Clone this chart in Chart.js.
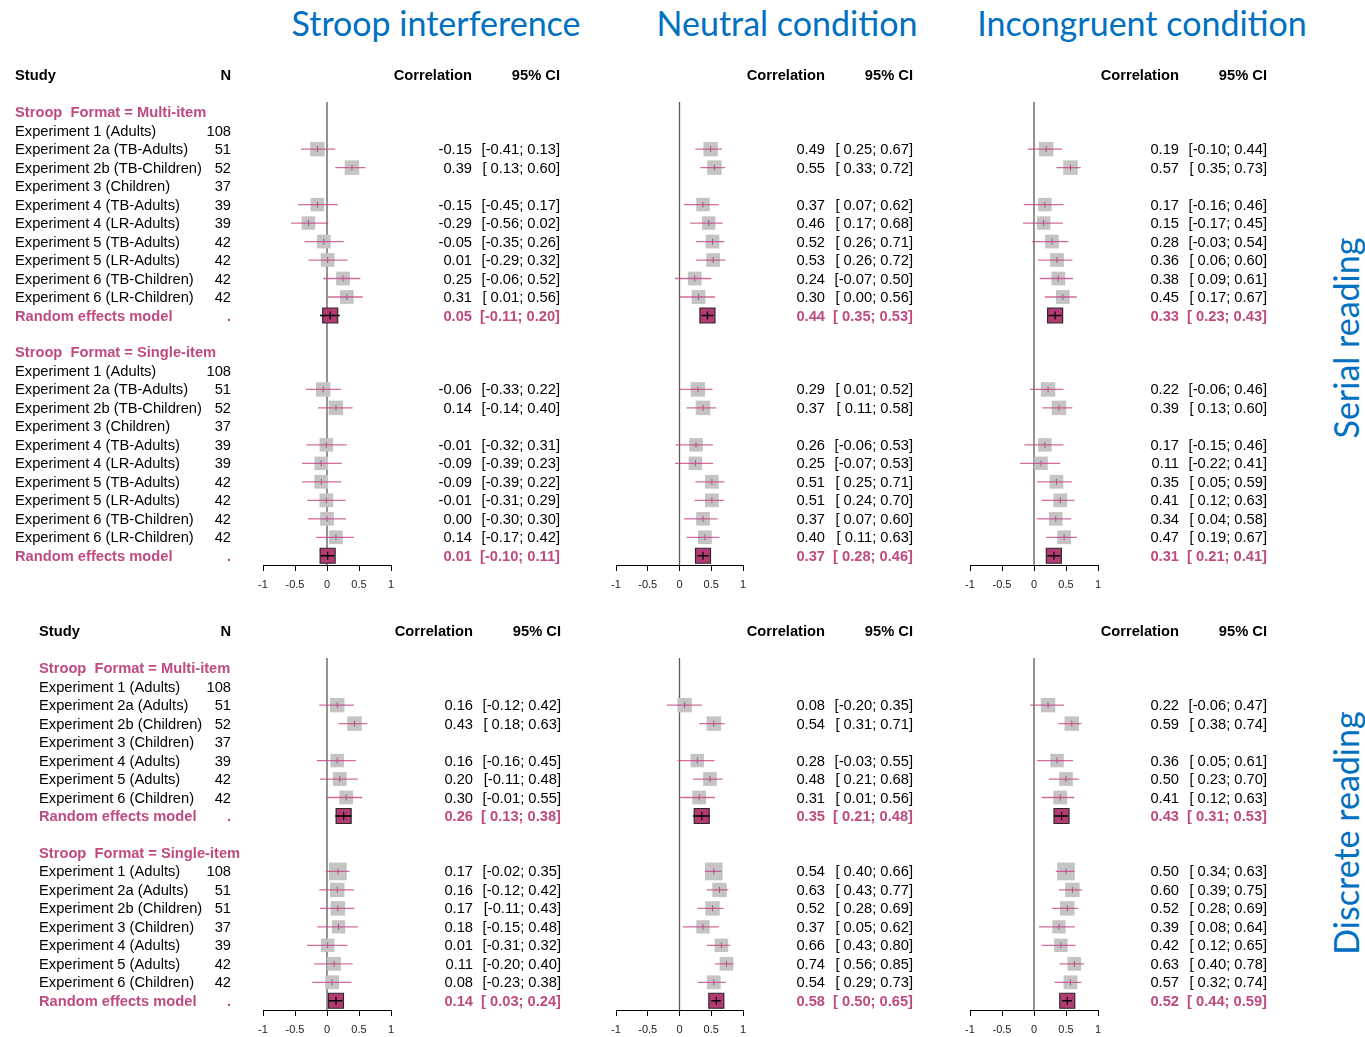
<!DOCTYPE html>
<html>
<head>
<meta charset="utf-8">
<title>Stroop forest plots</title>
<script src="https://cdn.jsdelivr.net/npm/chart.js@4.4.1/dist/chart.umd.min.js"></script>
<style>
  body { margin: 0; background: #fff; }
  #page { position: relative; width: 1365px; height: 1037px; overflow: hidden; }
  canvas { position: absolute; left: 0; }
  .title { position: absolute; top: 3px; line-height: 40px; color: #0070C0; font-family: Lato, "Open Sans", sans-serif;
           font-size: 34px; white-space: nowrap; transform: translateX(-50%); }
  .side { position: absolute; color: #0070C0; font-family: Lato, "Open Sans", sans-serif; font-size: 34px;
          white-space: nowrap; transform: translate(-50%, -50%) rotate(-90deg); }
</style>
</head>
<body>
<div id="page">
  <div class="title" style="left:436px">Stroop interference</div>
  <div class="title" style="left:787px">Neutral condition</div>
  <div class="title" style="left:1142px">Incongruent condition</div>
  <div class="side" style="left:1345px; top:338px">Serial reading</div>
  <div class="side" style="left:1345px; top:833px">Discrete reading</div>

  <canvas id="s1" width="1365" height="600" style="top:0"></canvas>
  <canvas id="s2" width="1365" height="600" style="top:0"></canvas>
  <canvas id="s3" width="1365" height="600" style="top:0"></canvas>
  <canvas id="d1" width="1365" height="437" style="top:600px"></canvas>
  <canvas id="d2" width="1365" height="437" style="top:600px"></canvas>
  <canvas id="d3" width="1365" height="437" style="top:600px"></canvas>
</div>

<script>
// ---- data ----
const groupLabels = ['Stroop  Format = Multi-item', 'Stroop  Format = Single-item'];
const xTicks = [-1, -0.5, 0, 0.5, 1];

const serialStudies = ['Experiment 1 (Adults)', 'Experiment 2a (TB-Adults)', 'Experiment 2b (TB-Children)',
  'Experiment 3 (Children)', 'Experiment 4 (TB-Adults)', 'Experiment 4 (LR-Adults)', 'Experiment 5 (TB-Adults)',
  'Experiment 5 (LR-Adults)', 'Experiment 6 (TB-Children)', 'Experiment 6 (LR-Children)'];
const serialN = [108, 51, 52, 37, 39, 39, 42, 42, 42, 42];

const discreteStudies = ['Experiment 1 (Adults)', 'Experiment 2a (Adults)', 'Experiment 2b (Children)',
  'Experiment 3 (Children)', 'Experiment 4 (Adults)', 'Experiment 5 (Adults)', 'Experiment 6 (Children)'];
const discreteMultiN = [108, 51, 52, 37, 39, 42, 42];
const discreteSingleN = [108, 51, 51, 37, 39, 42, 42];

// [correlation, lower, upper]; null = no estimate
const serialStroopMulti = [null, [-0.15, -0.41, 0.13], [0.39, 0.13, 0.60], null, [-0.15, -0.45, 0.17],
  [-0.29, -0.56, 0.02], [-0.05, -0.35, 0.26], [0.01, -0.29, 0.32], [0.25, -0.06, 0.52], [0.31, 0.01, 0.56]];
const serialStroopSingle = [null, [-0.06, -0.33, 0.22], [0.14, -0.14, 0.40], null, [-0.01, -0.32, 0.31],
  [-0.09, -0.39, 0.23], [-0.09, -0.39, 0.22], [-0.01, -0.31, 0.29], [0.00, -0.30, 0.30], [0.14, -0.17, 0.42]];
const serialStroopRE = [[0.05, -0.11, 0.20], [0.01, -0.10, 0.11]];

const serialNeutralMulti = [null, [0.49, 0.25, 0.67], [0.55, 0.33, 0.72], null, [0.37, 0.07, 0.62],
  [0.46, 0.17, 0.68], [0.52, 0.26, 0.71], [0.53, 0.26, 0.72], [0.24, -0.07, 0.50], [0.30, 0.00, 0.56]];
const serialNeutralSingle = [null, [0.29, 0.01, 0.52], [0.37, 0.11, 0.58], null, [0.26, -0.06, 0.53],
  [0.25, -0.07, 0.53], [0.51, 0.25, 0.71], [0.51, 0.24, 0.70], [0.37, 0.07, 0.60], [0.40, 0.11, 0.63]];
const serialNeutralRE = [[0.44, 0.35, 0.53], [0.37, 0.28, 0.46]];

const serialIncongMulti = [null, [0.19, -0.10, 0.44], [0.57, 0.35, 0.73], null, [0.17, -0.16, 0.46],
  [0.15, -0.17, 0.45], [0.28, -0.03, 0.54], [0.36, 0.06, 0.60], [0.38, 0.09, 0.61], [0.45, 0.17, 0.67]];
const serialIncongSingle = [null, [0.22, -0.06, 0.46], [0.39, 0.13, 0.60], null, [0.17, -0.15, 0.46],
  [0.11, -0.22, 0.41], [0.35, 0.05, 0.59], [0.41, 0.12, 0.63], [0.34, 0.04, 0.58], [0.47, 0.19, 0.67]];
const serialIncongRE = [[0.33, 0.23, 0.43], [0.31, 0.21, 0.41]];

const discreteStroopMulti = [null, [0.16, -0.12, 0.42], [0.43, 0.18, 0.63], null, [0.16, -0.16, 0.45],
  [0.20, -0.11, 0.48], [0.30, -0.01, 0.55]];
const discreteStroopSingle = [[0.17, -0.02, 0.35], [0.16, -0.12, 0.42], [0.17, -0.11, 0.43], [0.18, -0.15, 0.48],
  [0.01, -0.31, 0.32], [0.11, -0.20, 0.40], [0.08, -0.23, 0.38]];
const discreteStroopRE = [[0.26, 0.13, 0.38], [0.14, 0.03, 0.24]];

const discreteNeutralMulti = [null, [0.08, -0.20, 0.35], [0.54, 0.31, 0.71], null, [0.28, -0.03, 0.55],
  [0.48, 0.21, 0.68], [0.31, 0.01, 0.56]];
const discreteNeutralSingle = [[0.54, 0.40, 0.66], [0.63, 0.43, 0.77], [0.52, 0.28, 0.69], [0.37, 0.05, 0.62],
  [0.66, 0.43, 0.80], [0.74, 0.56, 0.85], [0.54, 0.29, 0.73]];
const discreteNeutralRE = [[0.35, 0.21, 0.48], [0.58, 0.50, 0.65]];

const discreteIncongMulti = [null, [0.22, -0.06, 0.47], [0.59, 0.38, 0.74], null, [0.36, 0.05, 0.61],
  [0.50, 0.23, 0.70], [0.41, 0.12, 0.63]];
const discreteIncongSingle = [[0.50, 0.34, 0.63], [0.60, 0.39, 0.75], [0.52, 0.28, 0.69], [0.39, 0.08, 0.64],
  [0.42, 0.12, 0.65], [0.63, 0.40, 0.78], [0.57, 0.32, 0.74]];
const discreteIncongRE = [[0.43, 0.31, 0.53], [0.52, 0.44, 0.59]];

// ---- drawing ----
const PINK = '#BF4A80';
const CI_PINK = 'rgba(196, 70, 130, 0.8)';
const FONT = '"Liberation Sans", Arial, sans-serif';
const FS = '14.7px ';

// lay out rows: group header, studies, random effects row, blank line
function buildRows(studies, nLists, results, reList) {
  const rows = [];
  let r = 0;
  for (let g = 0; g < 2; g++) {
    rows.push({ type: 'group', r: r++, label: groupLabels[g] });
    studies.forEach((s, i) => rows.push({ type: 'study', r: r++, name: s, n: nLists[g][i], res: results[g][i] }));
    rows.push({ type: 're', r: r, res: reList[g] });
    r += 2;
  }
  return rows;
}

function fmt(v) { return v.toFixed(2); }
function ciText(res) { return '[' + (res[1] < 0 ? '' : ' ') + fmt(res[1]) + '; ' + fmt(res[2]) + ']'; }

function tablePlugin(rows, cols) {
  return {
    id: 'table',
    afterDraw(chart) {
      const ctx = chart.ctx;
      const y = chart.scales.y;
      ctx.save();
      ctx.textBaseline = 'middle';
      const hy = y.getPixelForValue(-2) + 1;
      ctx.fillStyle = '#000';
      ctx.font = 'bold ' + FS + FONT;
      if (cols.studyX != null) {
        ctx.textAlign = 'left';
        ctx.fillText('Study', cols.studyX, hy);
        ctx.textAlign = 'right';
        ctx.fillText('N', cols.nX, hy);
      }
      ctx.textAlign = 'right';
      ctx.fillText('Correlation', cols.estX, hy);
      ctx.fillText('95% CI', cols.ciX, hy);

      rows.forEach(row => {
        const py = y.getPixelForValue(row.r) + 1;
        const bold = row.type !== 'study';
        ctx.font = (bold ? 'bold ' : '') + FS + FONT;
        ctx.fillStyle = row.type === 'study' ? '#000' : PINK;
        if (cols.studyX != null) {
          ctx.textAlign = 'left';
          if (row.type === 'group') ctx.fillText(row.label, cols.studyX, py);
          if (row.type === 'study') ctx.fillText(row.name, cols.studyX, py);
          if (row.type === 're') ctx.fillText('Random effects model', cols.studyX, py);
          ctx.textAlign = 'right';
          if (row.type === 'study') ctx.fillText(String(row.n), cols.nX, py);
          if (row.type === 're') ctx.fillText('.', cols.nX, py);
        }
        if ((row.type === 'study' || row.type === 're') && row.res) {
          ctx.textAlign = 'right';
          ctx.fillText(fmt(row.res[0]), cols.estX, py);
          ctx.fillText(ciText(row.res), cols.ciX, py);
        }
      });
      ctx.restore();
    }
  };
}

function segments(list) {
  return list.flatMap(d => [{ x: d.res[1], y: d.r }, { x: d.res[2], y: d.r }, { x: null, y: null }]);
}

function makePanel(id, rows, cols, box) {
  const studyRows = rows.filter(d => d.type === 'study' && d.res);
  const reRows = rows.filter(d => d.type === 're');
  const canvas = document.getElementById(id);
  const yMax = rows[rows.length - 1].r + 0.5;

  new Chart(canvas, {
    type: 'scatter',
    data: {
      datasets: [
        { // point estimate tick
          data: studyRows.map(d => ({ x: d.res[0], y: d.r })),
          pointStyle: 'line', rotation: 90, pointRadius: 3, borderColor: PINK, borderWidth: 1, order: 0
        },
        { // random effects tick
          data: reRows.map(d => ({ x: d.res[0], y: d.r })),
          pointStyle: 'line', rotation: 90, pointRadius: 4, borderColor: '#000', borderWidth: 1.2, order: 0
        },
        { // study CIs
          data: segments(studyRows), showLine: true, spanGaps: false, pointRadius: 0,
          borderColor: CI_PINK, borderWidth: 1.3, order: 1
        },
        { // random effects CIs
          data: segments(reRows), showLine: true, spanGaps: false, pointRadius: 0,
          borderColor: '#000', borderWidth: 1.3, order: 1
        },
        { // study squares, size by sample size
          data: studyRows.map(d => ({ x: d.res[0], y: d.r })),
          pointStyle: 'rect', pointRadius: studyRows.map(d => (7.5 + Math.sqrt(d.n - 3)) / Math.SQRT2),
          backgroundColor: '#C4C4C4', borderWidth: 0, order: 2
        },
        { // random effects box
          data: reRows.map(d => ({ x: d.res[0], y: d.r })),
          pointStyle: 'rect', pointRadius: 15 / Math.SQRT2,
          backgroundColor: '#B33A72', borderColor: '#2a2a2a', borderWidth: 1.2, order: 2
        },
        { // line of no effect
          data: [{ x: 0, y: -0.55 }, { x: 0, y: yMax }], showLine: true, pointRadius: 0,
          borderColor: '#5a5a5a', borderWidth: 1.3, order: 3
        }
      ]
    },
    options: {
      responsive: false,
      animation: false,
      events: [],
      layout: { padding: { left: box.left, right: 1365 - box.right, top: box.top, bottom: box.bottom } },
      plugins: { legend: { display: false }, tooltip: { enabled: false } },
      scales: {
        x: {
          type: 'linear', min: -1, max: 1,
          afterBuildTicks: scale => { scale.ticks = xTicks.map(v => ({ value: v })); },
          afterFit: scale => { scale.height = 24; },
          grid: { display: true, drawOnChartArea: false, drawTicks: true, tickLength: 6, color: '#000' },
          border: { display: true, color: '#000', width: 1 },
          ticks: { font: { family: FONT, size: 11 }, color: '#222', padding: 7, maxRotation: 0, autoSkip: false,
                   callback: v => String(v) }
        },
        y: { type: 'linear', display: false, reverse: true, min: -0.55, max: yMax }
      }
    },
    plugins: [tablePlugin(rows, cols)]
  });
}

const serialNs = [serialN, serialN];
const discreteNs = [discreteMultiN, discreteSingleN];

// top row: serial reading
const topBox = (l, r) => ({ left: l, right: r, top: 102, bottom: 11 });
makePanel('s1', buildRows(serialStudies, serialNs, [serialStroopMulti, serialStroopSingle], serialStroopRE),
  { studyX: 15, nX: 231, estX: 472, ciX: 560 }, topBox(263, 391));
makePanel('s2', buildRows(serialStudies, serialNs, [serialNeutralMulti, serialNeutralSingle], serialNeutralRE),
  { estX: 825, ciX: 913 }, topBox(616, 743));
makePanel('s3', buildRows(serialStudies, serialNs, [serialIncongMulti, serialIncongSingle], serialIncongRE),
  { estX: 1179, ciX: 1267 }, topBox(970, 1098));

// bottom row: discrete reading
const botBox = (l, r) => ({ left: l, right: r, top: 58, bottom: 3 });
makePanel('d1', buildRows(discreteStudies, discreteNs, [discreteStroopMulti, discreteStroopSingle], discreteStroopRE),
  { studyX: 39, nX: 231, estX: 473, ciX: 561 }, botBox(263, 391));
makePanel('d2', buildRows(discreteStudies, discreteNs, [discreteNeutralMulti, discreteNeutralSingle], discreteNeutralRE),
  { estX: 825, ciX: 913 }, botBox(616, 743));
makePanel('d3', buildRows(discreteStudies, discreteNs, [discreteIncongMulti, discreteIncongSingle], discreteIncongRE),
  { estX: 1179, ciX: 1267 }, botBox(970, 1098));
</script>
</body>
</html>
